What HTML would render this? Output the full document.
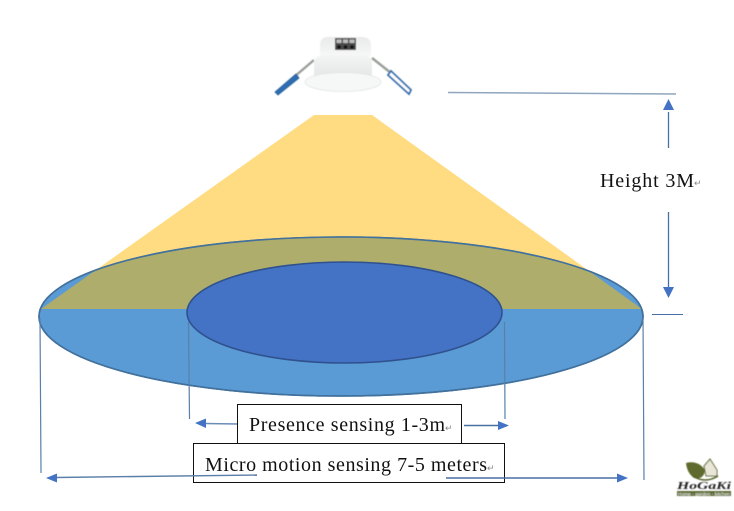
<!DOCTYPE html>
<html><head><meta charset="utf-8">
<style>
html,body{margin:0;padding:0;background:#fff}
svg{display:block}
text{font-family:"Liberation Serif",serif;fill:#111}
</style></head>
<body>
<svg width="734" height="511" viewBox="0 0 734 511" xmlns="http://www.w3.org/2000/svg">
<defs>
<clipPath id="bigE"><ellipse cx="341" cy="316.5" rx="302" ry="79.5"/></clipPath>
<linearGradient id="dev" x1="0" y1="0" x2="0" y2="1"><stop offset="0" stop-color="#f4f5f5"/><stop offset="1" stop-color="#e3e6e6"/></linearGradient>
<linearGradient id="top" x1="0" y1="0" x2="0" y2="1"><stop offset="0" stop-color="#e9eaea"/><stop offset="1" stop-color="#f7f7f7"/></linearGradient>
<filter id="b" x="-10%" y="-10%" width="120%" height="120%"><feGaussianBlur stdDeviation="0.45"/></filter>
</defs>
<rect width="734" height="511" fill="#fff"/>

<!-- cone -->
<polygon points="314,115 372,115 642,309 41,309" fill="#ffdc82"/>
<!-- big ellipse -->
<ellipse cx="341" cy="316.5" rx="302" ry="79.5" fill="#5b9bd5" stroke="#41719c" stroke-width="1.6"/>
<polygon points="314,115 372,115 642,309 41,309" fill="#aead6c" clip-path="url(#bigE)"/>
<ellipse cx="341" cy="316.5" rx="302" ry="79.5" fill="none" stroke="#41719c" stroke-width="1.6"/>
<!-- inner ellipse -->
<ellipse cx="344.5" cy="312.5" rx="157.5" ry="50.5" fill="#4472c4" stroke="#2f528f" stroke-width="1.6"/>

<!-- device -->
<g filter="url(#b)">
<path d="M294,77 L314,60" stroke="#9a9d98" stroke-width="2.4" fill="none"/>
<path d="M275,92 L296,74 L299,78 L278,95 Z" fill="#2f6db0" stroke="#1f5a9a" stroke-width="0.8"/>
<path d="M372,58 L391,73" stroke="#9a9d98" stroke-width="2.4" fill="none"/>
<path d="M391,71 L411,90 L409,94 L388,75 Z" fill="#fff" stroke="#2f6db0" stroke-width="1.8"/>
<path d="M320,56 L320,44 Q321,37 328,37 L362,37 Q370,37 371,44 L371,56 Z" fill="url(#top)"/>
<path d="M314,60 Q318,55 324,55 L362,55 Q370,55 372,60 L372,78 L314,78 Z" fill="url(#dev)"/>
<ellipse cx="343" cy="82" rx="38" ry="9.5" fill="#f6f7f7" stroke="#e2e4e4" stroke-width="0.8"/>
<rect x="335" y="38" width="21" height="12" fill="#4a4a4a"/>
<rect x="336.5" y="39.5" width="5" height="3.5" fill="#bdbdbd"/><rect x="343" y="39.5" width="5" height="3.5" fill="#bdbdbd"/><rect x="349.5" y="39.5" width="5" height="3.5" fill="#bdbdbd"/>
<circle cx="339" cy="47" r="1.8" fill="#111"/><circle cx="345.5" cy="47" r="1.8" fill="#111"/><circle cx="352" cy="47" r="1.8" fill="#111"/>
</g>

<!-- height dimension -->
<line x1="448" y1="92.5" x2="676" y2="94" stroke="#8fa6bd" stroke-width="1.5"/>
<line x1="668.5" y1="112" x2="668.5" y2="148" stroke="#4a6fa5" stroke-width="1.3"/>
<polygon points="668.5,99 674,110 663,110" fill="#4472c4"/>
<line x1="668.5" y1="212" x2="668.5" y2="288" stroke="#4a6fa5" stroke-width="1.3"/>
<polygon points="668.5,298 663,287 674,287" fill="#4472c4"/>
<line x1="652" y1="314.5" x2="683" y2="314.5" stroke="#4a6fa5" stroke-width="1"/>
<text x="600" y="187" font-size="20" textLength="94">Height 3M</text>
<text x="694" y="186" font-size="9" style="fill:#888">↵</text>

<!-- vertical drop lines -->
<line x1="40" y1="318" x2="41" y2="473" stroke="#5a7fa8" stroke-width="1.2"/>
<line x1="643" y1="318" x2="644" y2="480" stroke="#5a7fa8" stroke-width="1.2"/>
<line x1="188.5" y1="322" x2="189.5" y2="419" stroke="#5a7fa8" stroke-width="1.2"/>
<line x1="504.5" y1="322" x2="505" y2="419" stroke="#5a7fa8" stroke-width="1.2"/>

<!-- presence arrows -->
<line x1="205" y1="423.5" x2="238" y2="424" stroke="#6a8cb8" stroke-width="1.4"/>
<polygon points="195,423 206,418.5 206,428" fill="#4472c4"/>
<line x1="464" y1="425.5" x2="498" y2="425.5" stroke="#4a6fa5" stroke-width="1.4"/>
<polygon points="509,425.5 498,421 498,430" fill="#4472c4"/>

<!-- boxes -->
<rect x="237.5" y="404.5" width="224" height="48" fill="#fff" stroke="#111" stroke-width="1"/>
<rect x="193.5" y="443.5" width="311" height="39" fill="#fff" stroke="#111" stroke-width="1"/>
<text x="249" y="431" font-size="20" textLength="196">Presence sensing 1-3m</text>
<text x="445" y="431" font-size="9" style="fill:#888">↵</text>
<text x="205" y="471" font-size="20" textLength="282">Micro motion sensing 7-5 meters</text>
<text x="487" y="471" font-size="9" style="fill:#888">↵</text>

<!-- micro arrows -->
<line x1="56" y1="477.5" x2="257" y2="475" stroke="#5a7fa8" stroke-width="1.4"/>
<polygon points="46,478 57,473.5 57,482.5" fill="#4472c4"/>
<line x1="446" y1="478" x2="618" y2="478" stroke="#4a6fa5" stroke-width="1.4"/>
<polygon points="628,478 617,473.5 617,482.5" fill="#4472c4"/>

<!-- logo -->
<g filter="url(#b)">
<path d="M686,463 Q698,460 705,470 Q704,480 694,478 Q687,473 686,463 Z" fill="#5f6a2e"/>
<path d="M704,466 L710,459 L717,470 L717,476 L706,476 Z" fill="#e9e6d8" stroke="#5f6a30" stroke-width="1"/>
<path d="M693,476 Q705,484 718,476" stroke="#55622a" stroke-width="1.5" fill="none"/>
<text x="677" y="489" font-size="11" font-weight="bold" font-style="italic" style="fill:#222" textLength="54" lengthAdjust="spacingAndGlyphs">HoGaKi</text>
<rect x="677" y="491" width="54" height="5" fill="#5b6a32"/>
<text x="678" y="495.5" font-size="4.5" style="fill:#fff;font-family:'Liberation Sans',sans-serif" textLength="52" lengthAdjust="spacingAndGlyphs">Home - garden - kitchen</text>
</g>
</svg>
</body></html>
